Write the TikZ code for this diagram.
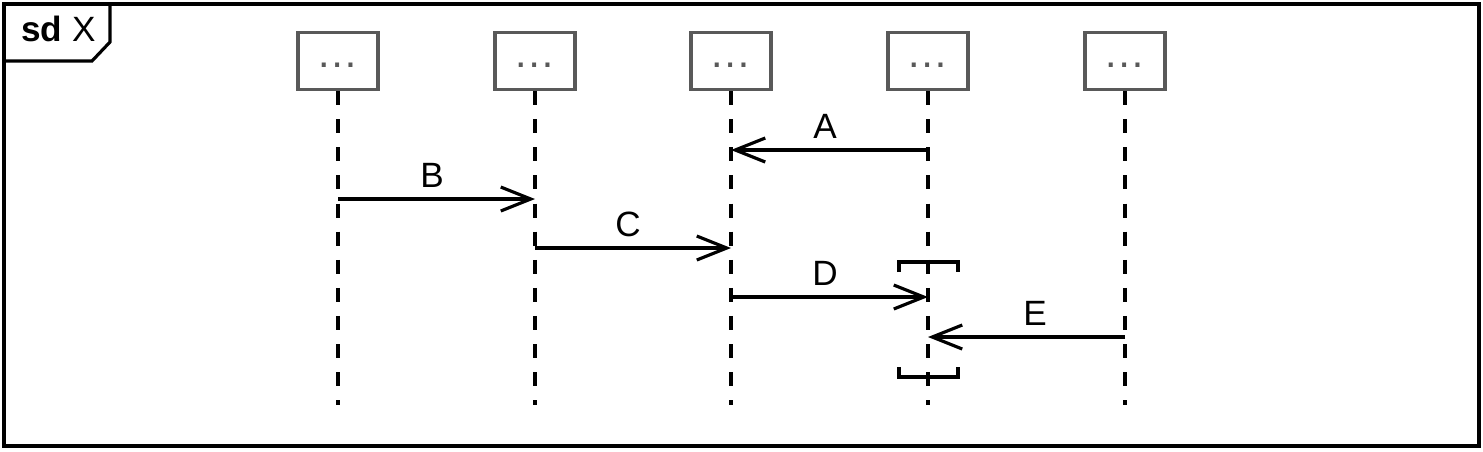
\documentclass[tikz,border=0pt]{standalone}
\usepackage{fontspec}
\setmainfont{Liberation Sans}
\usepackage{tikz}
\usetikzlibrary{positioning, arrows.meta, calc}

\begin{document}
\begin{tikzpicture}[x=0.02cm, y=-0.02cm,
        line width=1.8pt,
        lifebox/.style={draw=gray!70!black, minimum width=1.6cm, minimum height=1.14cm, inner sep=0pt, text=gray!70!black, font=\fontsize{24}{26}\selectfont},
        lifeline/.style={dash pattern=on 8pt off 8pt},
        msg/.style={-{Straight Barb[length=0.6cm, width=0.48cm, line width=1.8pt]}},
        msglabel/.style={font=\fontsize{20}{24}\selectfont, anchor=south}
    ]
            \def\lineend{405}

            % background and frame
            \useasboundingbox (0,0) rectangle (1483,451);
            \draw (4,4) rectangle (1479,446);
            \draw (4,4) -- (110,4) -- (110,42) -- (92,61) -- (4,61);
            \node[anchor=west, font=\fontsize{20}{24}\selectfont] (title) at (14,29) {\textbf{sd} X};

            % lifelines
            \foreach \name/\x in {p/338, q/535, r/731, s/928, t/1125}
            {
                \node[lifebox] (\name) at (\x,61) {\raisebox{-0.55ex}{\ldots}};
                \coordinate (\name end) at (\x,\lineend);
                \draw[lifeline] (\name.south) -- (\name end);
            }

            % messages
            \foreach \from/\to/\y/\lx/\lbl in {s/r/150/825/A, p/q/199/432/B, q/r/248/628/C, r/s/297/825/D, t/s/337/1035/E}
            {
                \coordinate (\from\lbl) at (\from |- 0,\y);
                \coordinate (\to\lbl) at (\to |- 0,\y);
                \draw[msg] (\from\lbl) -- (\to\lbl);
                \node[msglabel] (label\lbl) at (\lx,\y-4) {\lbl};
            }

            % coregion
            \coordinate (ctop) at (928,262);
            \coordinate (cbot) at (928,377);
            \draw ($(ctop)+(-29,10)$) -- ($(ctop)+(-29,0)$) -- ($(ctop)+(30,0)$) -- ($(ctop)+(30,10)$);
            \draw ($(cbot)+(-29,-10)$) -- ($(cbot)+(-29,0)$) -- ($(cbot)+(30,0)$) -- ($(cbot)+(30,-10)$);
        \end{tikzpicture}
\end{document}
